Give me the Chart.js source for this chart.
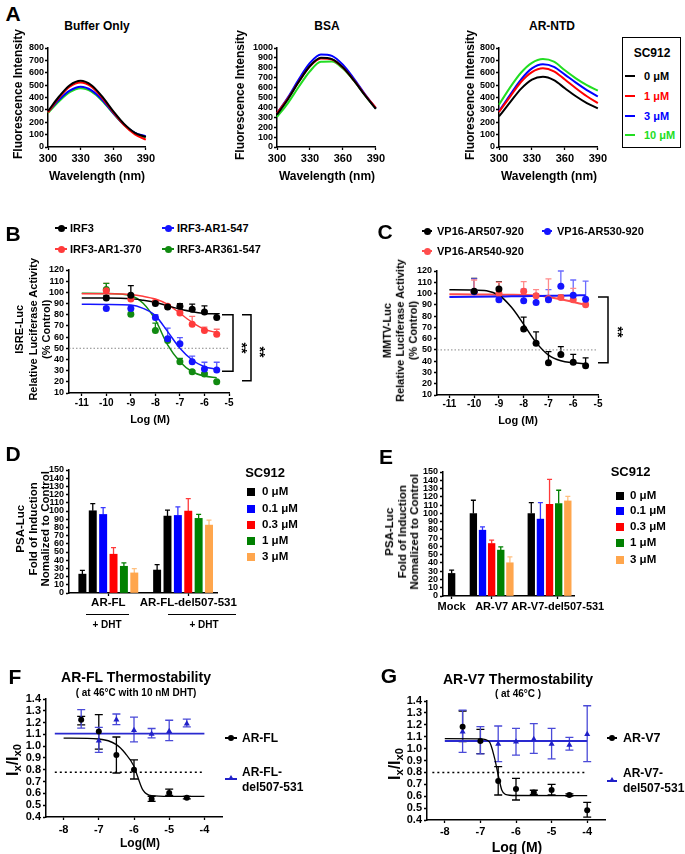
<!DOCTYPE html>
<html>
<head>
<meta charset="utf-8">
<script src="https://cdn.jsdelivr.net/npm/chart.js@4"></script>
<style>
body { margin:0; background:#fff; width:685px; height:854px; position:relative; overflow:hidden;
       font-family:'Liberation Sans', Arial, sans-serif; font-weight:bold; color:#000; }
canvas { position:absolute; }
.t { position:absolute; white-space:nowrap; line-height:1; transform:translate(-50%,-50%); }
.l { position:absolute; white-space:nowrap; line-height:1; transform:translate(0,-50%); }
.v { position:absolute; white-space:nowrap; text-align:center; }
sub { font-size:70%; vertical-align:-0.3em; line-height:0; }
</style>
</head>
<body>
<script>
// ---- A: fluorescence spectra ----
const wavelengths = [300, 310, 320, 330, 340, 350, 360, 370, 380, 390];
const waveTicks = [300, 330, 360, 390];
const bufBlack = [290, 406, 499, 535, 499, 406, 290, 187, 115, 82];
const bufRed   = [280, 398, 488, 522, 488, 396, 282, 178, 102, 60];
const bufBlue  = [285, 380, 455, 487, 458, 380, 275, 180, 115, 86];
const bufGreen = [275, 368, 443, 475, 447, 372, 272, 178, 112, 80];
const bsaBlack = [327, 483, 661, 818, 901, 888, 804, 672, 523, 385];
const bsaRed   = [342, 492, 662, 815, 894, 883, 802, 675, 530, 395];
const bsaBlue  = [340, 502, 687, 849, 935, 921, 831, 691, 534, 390];
const bsaGreen = [303, 444, 611, 765, 860, 863, 792, 670, 525, 388];
const ntdBlack = [247, 360, 470, 545, 567, 540, 475, 410, 355, 312];
const ntdRed   = [283, 405, 525, 605, 636, 612, 545, 475, 410, 355];
const ntdBlue  = [288, 420, 545, 635, 668, 648, 585, 520, 460, 408];
const ntdGreen = [342, 480, 600, 680, 711, 690, 620, 555, 500, 455];
const ticks800 = [0, 100, 200, 300, 400, 500, 600, 700, 800];
const ticks1000 = [0, 100, 200, 300, 400, 500, 600, 700, 800, 900, 1000];
const scLabels = ['0 μM', '1 μM', '3 μM', '10 μM'];

// ---- B / C: luciferase dose response ----
const logDoses = [-10, -9, -8, -7.5, -7, -6.5, -6, -5.5];
const fitX = [-11, -10, -9, -8.5, -8, -7.5, -7, -6.5, -6, -5.5];
const logTicks = [-11, -10, -9, -8, -7, -6, -5];
const pctTicks = [10, 20, 30, 40, 50, 60, 70, 80, 90, 100, 110, 120];

const irf3        = [95, 97.5, 90, 87, 87.5, 85, 82.5, 77.5];
const irf3Hi      = [97, 106, 92.5, 89, 90, 89.5, 88, 81];
const ar1_370     = [101.5, 94, 91, 87.5, 81.5, 71.5, 66, 62.5];
const ar1_370Hi   = [108, 96, 93, 89, 84, 78.5, 69, 67];
const ar1_547     = [85.5, 85.5, 77.5, 58.5, 54, 38, 31.5, 30.5];
const ar1_547Hi   = [87, 88, 80, 68, 59.5, 43, 37.5, 37.5];
const ar361_547   = [102.5, 80.5, 66, 57, 38, 29, 27, 20];
const ar361_547Hi = [108, 82, 72.5, 59, 41, 30, 28, 21];
const irf3Fit      = [95, 95, 94.4, 92.9, 91, 88, 85.1, 82.7, 81.2, 80.6];
const ar1_370Fit   = [98.8, 98.7, 98, 96.5, 94, 89.3, 81.3, 73.2, 67, 64];
const ar1_547Fit   = [89.3, 89.2, 88.7, 85.7, 79.2, 64.9, 50, 39.5, 33.5, 31.2];
const ar361_547Fit = [99.1, 99, 97, 90.2, 75.3, 53, 38, 29, 25.2, 23.7];

const vp507   = [102, 104, 68.5, 56, 38.5, 46, 39, 36];
const vp507Hi = [113.5, 110.5, 79, 66, 48.5, 53, 46, 43];
const vp540   = [101.5, 100, 102, 98, 95.5, 96.5, 94.5, 90];
const vp540Hi = [112, 110, 110.5, 103.5, 113, 99, 104.5, 92];
const vp530   = [101.5, 94.5, 93.5, 92, 94.5, 106.5, 98.5, 95];
const vp530Hi = [113, 97, 104, 100, 103.5, 120, 112, 111];
const vp507Fit = [103.4, 103.2, 98.5, 88, 72.7, 56.7, 45.4, 40.4, 38.6, 37.7];
const vp540Fit = [99.3, 99.2, 99, 98.9, 98.7, 98.2, 97, 95, 92.5, 90];
const vp530Fit = [97, 97.2, 97.4, 97.5, 97.6, 97.8, 98, 98.1, 98.3, 98.5];

// ---- D / E: PSA-Luc bars ----
const foldTicks = [0, 10, 20, 30, 40, 50, 60, 70, 80, 90, 100, 110, 120, 130, 140, 150];
const doseLabels = ['0 μM', '0.1 μM', '0.3 μM', '1 μM', '3 μM'];
const dGroups = ['AR-FL', 'AR-FL-del507-531'];
const dNoDrug = [23, 28];
const dNoDrugHi = [27.7, 34.7];
const dFL = [100.3, 95.8, 47.3, 32.6, 24.5];
const dFLHi = [109, 104, 55.4, 36.7, 29.8];
const dDel = [93.8, 94.6, 99.9, 91, 82.8];
const dDelHi = [101, 105, 115, 95.8, 88.9];
const eGroups = ['Mock', 'AR-V7', 'AR-V7-del507-531'];
const eMock = [27.3];
const eMockHi = [31.4];
const eV7 = [99.7, 79.6, 63.5, 55.5, 40.2];
const eV7Hi = [115.8, 83.6, 67.6, 59.5, 47.4];
const eDel = [99.7, 93, 111, 111.8, 115];
const eDelHi = [113, 113, 141, 127.9, 120.6];

// ---- F / G: thermostability ----
const ratioTicks = [0.4, 0.5, 0.6, 0.7, 0.8, 0.9, 1.0, 1.1, 1.2, 1.3, 1.4];
const ratioLabels = ['0.4', '0.5', '0.6', '0.7', '0.8', '0.9', '1.0', '1.1', '1.2', '1.3', '1.4'];
const thermoTicks = [-8, -7, -6, -5, -4];
const flX = [-7.5, -7, -6.5, -6, -5.5, -5, -4.5];
const flMean = [1.225, 1.125, 0.925, 0.80, 0.553, 0.603, 0.564];
const flHi = [1.253, 1.267, 1.078, 0.884, 0.576, 0.637, 0.574];
const flLo = [1.18, 0.976, 0.773, 0.722, 0.533, 0.583, 0.554];
const flDel = [1.23, 1.047, 1.225, 1.135, 1.103, 1.126, 1.191];
const flDelHi = [1.31, 1.16, 1.273, 1.247, 1.15, 1.22, 1.23];
const flDelLo = [1.154, 0.948, 1.182, 1.036, 1.07, 1.047, 1.163];
const flFitX = [-8, -7, -6.5, -6.25, -6, -5.9, -5.75, -5.5, -5, -4];
const flFit = [1.069, 1.061, 1.013, 0.94, 0.83, 0.745, 0.63, 0.581, 0.575, 0.575];
const flDelFitX = [-8.25, -4];
const flDelFit = [1.106, 1.106];
const flCut = [0.78, 0.78];
const flCutX = [-8.25, -4];

const v7X = [-7.5, -7, -6.5, -6, -5.5, -5, -4.5, -4];
const v7Mean = [1.184, 1.064, 0.728, 0.66, 0.632, 0.652, 0.61, 0.481];
const v7Hi = [1.316, 1.162, 0.848, 0.75, 0.65, 0.70, 0.62, 0.548];
const v7Lo = [1.058, 0.957, 0.61, 0.568, 0.616, 0.61, 0.60, 0.425];
const v7Del = [1.142, 1.067, 1.039, 1.058, 1.078, 1.039, 1.03, 1.12];
const v7DelHi = [1.324, 1.184, 1.19, 1.17, 1.21, 1.17, 1.095, 1.36];
const v7DelLo = [0.969, 0.955, 0.89, 0.946, 0.96, 0.913, 0.988, 0.89];
const v7FitX = [-8, -7, -6.75, -6.6, -6.5, -6.4, -6.3, -6, -4];
const v7Fit = [1.083, 1.082, 1.058, 0.918, 0.778, 0.652, 0.616, 0.606, 0.605];
const v7DelFitX = [-8, -4];
const v7DelFit = [1.064, 1.064];
const v7Cut = [0.8, 0.8];
const v7CutX = [-8.35, -4];

const FL = "'Liberation Sans', Arial, sans-serif";
Chart.defaults.font.family = FL;
Chart.defaults.font.weight = 'bold';
Chart.defaults.color = '#000';
Chart.defaults.animation = false;

// error bars drawn from the hi / lo arrays through the chart scales
const errorBars = {
  id: 'errorBars',
  beforeDatasetsDraw(chart) {
    const ctx = chart.ctx, xs = chart.scales.x, ys = chart.scales.y;
    chart.data.datasets.forEach(ds => {
      if (!ds.hi) return;
      ctx.save();
      ctx.lineWidth = ds.errWidth || 1.3;
      const cap = ds.cap || 3;
      ds.data.forEach((p, i) => {
        ctx.strokeStyle = Array.isArray(ds.errColor) ? ds.errColor[i] : (ds.errColor || ds.borderColor);
        const x = xs.getPixelForValue(p.x), y0 = ys.getPixelForValue(p.y);
        [ds.hi[i], ds.lo ? ds.lo[i] : null].forEach(v => {
          if (v == null) return;
          const y1 = ys.getPixelForValue(v);
          ctx.beginPath();
          ctx.moveTo(x, y0); ctx.lineTo(x, y1);
          ctx.moveTo(x - cap, y1); ctx.lineTo(x + cap, y1);
          ctx.stroke();
        });
      });
      ctx.restore();
    });
  }
};

// significance brackets to the right of the plot
const brackets = {
  id: 'brackets',
  afterDraw(chart, args, opts) {
    if (!opts || !opts.items) return;
    const ctx = chart.ctx, ys = chart.scales.y, right = chart.chartArea.right;
    ctx.save();
    ctx.strokeStyle = '#000';
    ctx.lineWidth = 1.5;
    opts.items.forEach(b => {
      const x = right + b.dx, y1 = ys.getPixelForValue(b.from), y2 = ys.getPixelForValue(b.to);
      ctx.beginPath();
      ctx.moveTo(x - b.arm, y1); ctx.lineTo(x, y1); ctx.lineTo(x, y2); ctx.lineTo(x - b.arm, y2);
      ctx.stroke();
    });
    ctx.restore();
  }
};
Chart.register(errorBars, brackets);

function axis(min, max, ticks, size, pad, labels) {
  return {
    type: 'linear', min: min, max: max, offset: false,
    afterBuildTicks: s => { s.ticks = ticks.map(v => ({ value: v })); },
    grid: { drawOnChartArea: false, drawTicks: true, tickLength: 3, tickColor: '#000', tickWidth: 1.3, offset: false },
    border: { display: true, color: '#000', width: 1.5 },
    ticks: { autoSkip: false, maxRotation: 0, minRotation: 0, padding: pad, color: '#000',
             font: { size: size, weight: 'bold', family: FL },
             callback: (v, i) => labels ? labels[i] : String(v) }
  };
}

function makeChart(plot, cfg, m) {
  m = Object.assign({ l: 34, b: 24, t: 10, r: 44 }, m);
  const c = document.createElement('canvas');
  const w = plot.r - plot.l + m.l + m.r, h = plot.b - plot.t + m.t + m.b;
  c.width = w; c.height = h;
  c.style.left = (plot.l - m.l) + 'px';
  c.style.top = (plot.t - m.t) + 'px';
  c.style.width = w + 'px'; c.style.height = h + 'px';
  document.body.appendChild(c);
  const o = cfg.options;
  o.responsive = false;
  o.devicePixelRatio = 1;
  o.layout = { padding: { top: m.t, right: m.r, left: 0, bottom: 0 }, autoPadding: false };
  o.plugins = Object.assign({ legend: { display: false }, tooltip: { enabled: false } }, o.plugins);
  o.scales.x.afterFit = s => { s.height = m.b; };
  o.scales.y.afterFit = s => { s.width = m.l; };
  return new Chart(c, cfg);
}

function xy(xs, ys) { return xs.map((x, i) => ({ x: x, y: ys[i] })); }

function pts(xs, ys, hi, lo, color, o) {
  return Object.assign({ type: 'scatter', data: xy(xs, ys), hi: hi, lo: lo,
    backgroundColor: color, borderColor: color, pointRadius: 3.5, pointBorderWidth: 0,
    showLine: false, clip: false }, o || {});
}
function curve(xs, ys, color, o) {
  return Object.assign({ type: 'line', data: xy(xs, ys), borderColor: color, borderWidth: 1.5,
    pointRadius: 0, cubicInterpolationMode: 'monotone', fill: false, clip: false }, o || {});
}

// ---- HTML text helpers ----
function text(s, x, y, size, o) {
  o = o || {};
  const d = document.createElement('div');
  d.className = o.left ? 'l' : 't';
  d.style.left = x + 'px'; d.style.top = y + 'px'; d.style.fontSize = size + 'px';
  if (o.color) d.style.color = o.color;
  if (o.rot) d.style.transform = 'translate(-50%,-50%) rotate(' + o.rot + 'deg)';
  d.innerHTML = s;
  document.body.appendChild(d);
}
function vtitle(lines, x, y, size, lh) {
  const d = document.createElement('div');
  d.className = 'v';
  d.style.fontSize = size + 'px';
  d.style.lineHeight = lh + 'px';
  d.innerHTML = lines.join('<br>');
  document.body.appendChild(d);
  const w = d.offsetWidth, h = d.offsetHeight;
  d.style.left = (x - w / 2) + 'px';
  d.style.top = (y - h / 2) + 'px';
  d.style.transform = 'rotate(-90deg)';
}
function box(x, y, w, h, css) {
  const d = document.createElement('div');
  d.style.cssText = 'position:absolute;left:' + x + 'px;top:' + y + 'px;width:' + w + 'px;height:' + h + 'px;' + css;
  document.body.appendChild(d);
}
function mark(x1, x2, y, color, shape, r) {
  box(x1, y - 1, x2 - x1, 2, 'background:' + color);
  const cx = (x1 + x2) / 2;
  if (shape === 'tri') {
    box(cx - r, y - r - 1, 0, 0, 'border-left:' + r + 'px solid transparent;border-right:' + r +
      'px solid transparent;border-bottom:' + (r * 1.7) + 'px solid ' + color);
  } else {
    box(cx - r, y - r, 2 * r, 2 * r, 'border-radius:50%;background:' + color);
  }
}

// ================= A =================
const aCols = ['#000000', '#ff0000', '#0000ff', '#22dd22'];
function spectrum(plot, yMax, yTicks, series) {
  return makeChart(plot, {
    type: 'line',
    data: { datasets: series.map((vals, i) => curve(wavelengths, vals, aCols[i], { borderWidth: 2 })) },
    options: { scales: { x: axis(300, 390, waveTicks, 11, 2), y: axis(0, yMax, yTicks, 9, 1) } }
  }, { r: 10 });
}
spectrum({ l: 48, t: 48, r: 147, b: 147 }, 800, ticks800, [bufBlack, bufRed, bufBlue, bufGreen]);
spectrum({ l: 277, t: 48, r: 377, b: 147 }, 1000, ticks1000, [bsaBlack, bsaRed, bsaBlue, bsaGreen]);
spectrum({ l: 499, t: 48, r: 599, b: 147 }, 800, ticks800, [ntdBlack, ntdRed, ntdBlue, ntdGreen]);

text('A', 13, 13, 21);
text('Buffer Only', 97, 26, 12);
text('BSA', 327, 26, 12);
text('AR-NTD', 552, 26, 12);
[[18, 94], [240, 95], [470, 95]].forEach(p => text('Fluorescence Intensity', p[0], p[1], 12, { rot: -90 }));
[97, 327, 549].forEach(x => text('Wavelength (nm)', x, 176, 12));
box(622, 37, 57, 109, 'border:1.5px solid #000');
text('SC912', 652, 53, 12);
[76, 96, 116, 135].forEach((y, i) => {
  box(625, y - 1, 10, 2, 'background:' + aCols[i]);
  text(scLabels[i], 644, y, 11, { left: true, color: aCols[i] });
});

// ================= B =================
const bCols = ['#000000', '#ff3b3b', '#1414ff', '#118a11'];
makeChart({ l: 69, t: 270, r: 229, b: 393 }, {
  type: 'scatter',
  data: { datasets: [
    pts(logDoses, irf3, irf3Hi, null, bCols[0]),
    pts(logDoses, ar1_370, ar1_370Hi, null, bCols[1], { errColor: '#ff7070' }),
    pts(logDoses, ar1_547, ar1_547Hi, null, bCols[2], { errColor: '#5a5aff' }),
    pts(logDoses, ar361_547, ar361_547Hi, null, bCols[3]),
    curve(fitX, irf3Fit, bCols[0]),
    curve(fitX, ar1_370Fit, bCols[1]),
    curve(fitX, ar1_547Fit, bCols[2]),
    curve(fitX, ar361_547Fit, bCols[3]),
    curve([-11.52, -5], [50, 50], '#888', { borderWidth: 1, borderDash: [1.5, 2] })
  ] },
  options: {
    scales: { x: axis(-11.52, -5, logTicks, 10, 1), y: axis(10, 120, pctTicks, 9, 2) },
    plugins: { brackets: { items: [{ dx: 4, from: 80, to: 29.5, arm: 11 }, { dx: 22, from: 80, to: 21, arm: 9 }] } }
  }
});
text('B', 13, 233, 21);
mark(55, 67, 228, bCols[0], 'dot', 3.5); text('IRF3', 70, 228, 11, { left: true });
mark(162, 174, 228, bCols[2], 'dot', 3.5); text('IRF3-AR1-547', 177, 228, 11, { left: true });
mark(55, 67, 249, bCols[1], 'dot', 3.5); text('IRF3-AR1-370', 70, 249, 11, { left: true });
mark(162, 174, 249, bCols[3], 'dot', 3.5); text('IRF3-AR361-547', 177, 249, 11, { left: true });
vtitle(['ISRE-Luc', 'Relative Luciferase Activity', '(% Control)'], 33, 329, 11, 13.5);
text('Log (M)', 150, 419, 11);
text('**', 242, 348, 14, { rot: 90 });
text('**', 260, 352, 14, { rot: 90 });

// ================= C =================
const cCols = ['#000000', '#ff4d4d', '#1414ff'];
makeChart({ l: 437, t: 271, r: 598, b: 395 }, {
  type: 'scatter',
  data: { datasets: [
    pts(logDoses, vp507, vp507Hi, null, cCols[0]),
    pts(logDoses, vp530, vp530Hi, null, cCols[2], { errColor: '#6b6bff' }),
    pts(logDoses, vp540, vp540Hi, null, cCols[1], { errColor: '#ff8a8a' }),
    curve(fitX, vp507Fit, cCols[0]),
    curve(fitX, vp530Fit, cCols[2], { borderWidth: 2 }),
    curve(fitX, vp540Fit, cCols[1], { borderWidth: 2 }),
    curve([-11.5, -5], [50, 50], '#888', { borderWidth: 1, borderDash: [1.5, 2] })
  ] },
  options: {
    scales: { x: axis(-11.5, -5, logTicks, 10, 0), y: axis(10, 120, pctTicks, 9, 2) },
    plugins: { brackets: { items: [{ dx: 10, from: 97, to: 38.5, arm: 10 }] } }
  }
});
text('C', 385, 231, 21);
mark(422, 432, 231, cCols[0], 'dot', 3.5); text('VP16-AR507-920', 437, 231, 11, { left: true });
mark(542, 552, 231, cCols[2], 'dot', 3.5); text('VP16-AR530-920', 557, 231, 11, { left: true });
mark(422, 432, 251, cCols[1], 'dot', 3.5); text('VP16-AR540-920', 437, 251, 11, { left: true });
vtitle(['MMTV-Luc', 'Relative Luciferase Activity', '(% Control)'], 400, 330, 11, 13);
text('Log (M)', 518, 420, 11);
text('**', 618, 332, 14, { rot: 90 });

// ================= D =================
const doseColors = ['#000000', '#0000ff', '#ff0000', '#008000', '#ffa64d'];
const doseErr = ['#000000', '#3a3aff', '#ff3a3a', '#008000', '#ffc080'];
function groupBars(groups, slots, thick) {
  const data = [], hi = [], col = [], err = [];
  groups.forEach((g, gi) => {
    g.vals.forEach((v, k) => {
      data.push({ x: slots[gi] + k, y: v });
      hi.push(g.hi[k]);
      col.push(g.cols[k]);
      err.push(g.errs[k]);
    });
  });
  return { type: 'bar', data: data, hi: hi, backgroundColor: col, errColor: err, barThickness: thick,
           cap: 2.5, borderWidth: 0, clip: false };
}
const dSlots = [1, 8.2];
makeChart({ l: 69, t: 470, r: 232, b: 593 }, {
  type: 'scatter',
  data: { datasets: [groupBars([
    { vals: [dNoDrug[0]].concat(dFL), hi: [dNoDrugHi[0]].concat(dFLHi), cols: ['#000'].concat(doseColors), errs: ['#000'].concat(doseErr) },
    { vals: [dNoDrug[1]].concat(dDel), hi: [dNoDrugHi[1]].concat(dDelHi), cols: ['#000'].concat(doseColors), errs: ['#000'].concat(doseErr) }
  ], dSlots, 7.3)] },
  options: { scales: {
    x: axis(-0.29, 14, [dSlots[0] + 2.5, dSlots[1] + 3], 11.5, 0, dGroups),
    y: axis(0, 150, foldTicks, 9, 2)
  } }
}, { r: 6 });
text('D', 13, 453, 21);
vtitle(['PSA-Luc', 'Fold of Induction', 'Nomalized to Control'], 32.5, 529, 11.5, 12.5);
box(86, 614, 43, 1, 'background:#000');
box(168, 614, 68, 1, 'background:#000');
text('+ DHT', 107, 625, 10);
text('+ DHT', 204, 625, 10);
text('SC912', 265, 472, 13);
[492, 509, 525, 541, 557].forEach((y, i) => {
  box(247, y - 4, 8, 8, 'background:' + doseColors[i]);
  text(doseLabels[i], 262, y, 11.5, { left: true });
});

// ================= E =================
const eSlots = [0, 2.38, 8.72];
makeChart({ l: 443, t: 472, r: 600, b: 596 }, {
  type: 'scatter',
  data: { datasets: [groupBars([
    { vals: eMock, hi: eMockHi, cols: ['#000'], errs: ['#000'] },
    { vals: eV7, hi: eV7Hi, cols: doseColors, errs: doseErr },
    { vals: eDel, hi: eDelHi, cols: doseColors, errs: doseErr }
  ], eSlots, 6.7)] },
  options: { scales: {
    x: axis(-0.945, 13.46, [eSlots[0], eSlots[1] + 2, eSlots[2] + 2.9], 11, 1, eGroups),
    y: axis(0, 150, foldTicks, 9, 2)
  } }
}, { r: 6 });
text('E', 386, 456, 21);
vtitle(['PSA-Luc', 'Fold of Induction', 'Nomalized to Control'], 401.5, 532, 11.5, 12.5);
text('SC912', 630.5, 471, 13);
[496, 511, 527, 543, 560].forEach((y, i) => {
  box(616, y - 4, 8, 8, 'background:' + doseColors[i]);
  text(doseLabels[i], 630, y, 11.5, { left: true });
});

// ================= F =================
function thermo(plot, set, lblPad) {
  return makeChart(plot, {
    type: 'scatter',
    data: { datasets: [
      pts(set.x, set.mean, set.hi, set.lo, '#000', { pointRadius: 3, cap: 4 }),
      pts(set.x, set.del, set.delHi, set.delLo, '#2020c8',
        { pointStyle: 'triangle', pointRadius: 3.5, cap: 4, errColor: '#4a4ad8' }),
      curve(set.fitX, set.fit, '#000', { borderWidth: 1.3 }),
      curve(set.delFitX, set.delFit, '#2a2ad0', { borderWidth: 1.8 }),
      curve(set.cutX, set.cut, '#000', { borderWidth: 1.5, borderDash: [2, 3] })
    ] },
    options: { scales: {
      x: axis(-8.5, -3.5, thermoTicks, 11, lblPad),
      y: axis(0.4, 1.4, ratioTicks, 11, 2, ratioLabels)
    } }
  }, { r: 6 });
}
thermo({ l: 46, t: 699, r: 222, b: 817 }, {
  x: flX, mean: flMean, hi: flHi, lo: flLo, del: flDel, delHi: flDelHi, delLo: flDelLo,
  fitX: flFitX, fit: flFit, delFitX: flDelFitX, delFit: flDelFit, cutX: flCutX, cut: flCut
}, 3);
text('F', 15, 676, 21);
text('AR-FL Thermostability', 136, 677, 14);
text('( at 46°C with 10 nM DHT)', 136, 693, 10);
text('I<sub>x</sub>/I<sub>x0</sub>', 13, 760, 16, { rot: -90 });
text('Log(M)', 140, 843, 12);
mark(225, 237, 738, '#000', 'dot', 3);
text('AR-FL', 242, 738, 12, { left: true });
mark(225, 237, 779, '#2020c8', 'tri', 3.5);
text('AR-FL-', 242, 772, 12, { left: true });
text('del507-531', 242, 787, 12, { left: true });

// ================= G =================
thermo({ l: 427, t: 701, r: 605, b: 820 }, {
  x: v7X, mean: v7Mean, hi: v7Hi, lo: v7Lo, del: v7Del, delHi: v7DelHi, delLo: v7DelLo,
  fitX: v7FitX, fit: v7Fit, delFitX: v7DelFitX, delFit: v7DelFit, cutX: v7CutX, cut: v7Cut
}, 2);
text('G', 389, 675, 21);
text('AR-V7 Thermostability', 518, 679, 14);
text('( at 46°C )', 518, 694, 10);
text('I<sub>x</sub>/I<sub>x0</sub>', 395, 764, 16, { rot: -90 });
text('Log (M)', 517, 847, 14);
mark(607, 617, 738, '#000', 'dot', 3);
text('AR-V7', 623, 738, 12.5, { left: true });
mark(607, 617, 781, '#2020c8', 'tri', 3.5);
text('AR-V7-', 623, 773, 12, { left: true });
text('del507-531', 623, 788, 12, { left: true });
</script>
</body>
</html>
